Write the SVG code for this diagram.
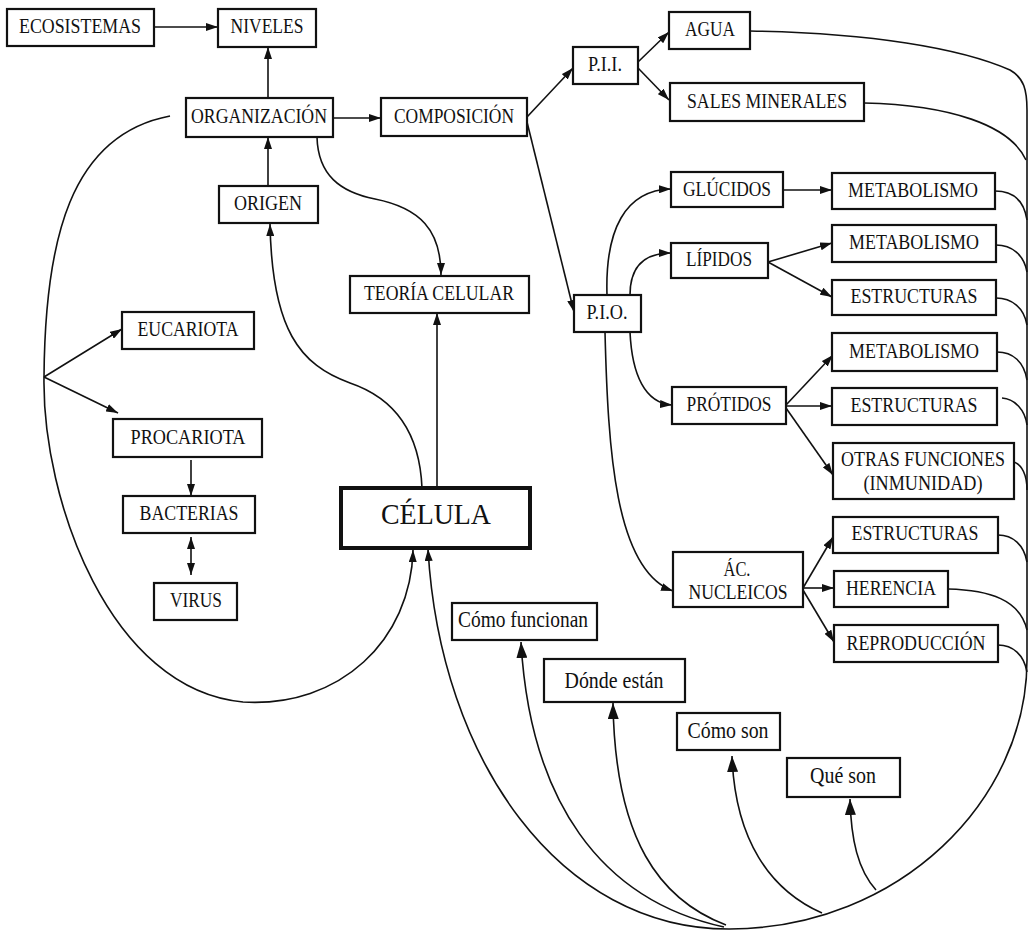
<svg xmlns="http://www.w3.org/2000/svg" width="1031" height="932" viewBox="0 0 1031 932">
<style>
.box{fill:#fff;stroke:#111;stroke-width:2.2}
.big{fill:#fff;stroke:#111;stroke-width:4}
text{font-family:"Liberation Serif","Times New Roman",serif;fill:#111;text-anchor:middle}
.t{font-size:20px}
.tl{font-size:23px}
.tb{font-size:30px}
.c{fill:none;stroke:#111;stroke-width:1.6}
.a{marker-end:url(#ah)}
.al{marker-end:url(#ahl)}
</style>
<defs>
<marker id="ah" markerUnits="userSpaceOnUse" viewBox="0 0 12 8" markerWidth="12" markerHeight="8" refX="12" refY="4" orient="auto-start-reverse"><path d="M0 0 L12 4 L0 8 z" fill="#111"/></marker>
<marker id="ahl" markerUnits="userSpaceOnUse" viewBox="0 0 16 11" markerWidth="16" markerHeight="11" refX="16" refY="5.5" orient="auto"><path d="M0 0 L16 5.5 L0 11 z" fill="#111"/></marker>
</defs>
<rect width="1031" height="932" fill="#fff"/>
<g id="connectors">
<path class="c a" d="M154 27 L218 27"/>
<path class="c a" d="M268 98 L268 47"/>
<path class="c a" d="M333 118 L381 118"/>
<path class="c a" d="M268 186 L268 137"/>
<path class="c a" d="M437 486 L437 313"/>
<path class="c a" d="M527 117 L573 68"/>
<path class="c a" d="M527 122 L574 312"/>
<path class="c a" d="M638 62 L669 32"/>
<path class="c a" d="M638 68 L669 100"/>
<path class="c a" d="M783 190 L832 190"/>
<path class="c a" d="M768 262 L832 243"/>
<path class="c a" d="M768 262 L832 297"/>
<path class="c a" d="M786 405 L833 355"/>
<path class="c a" d="M786 406 L832 406"/>
<path class="c a" d="M786 408 L833 475"/>
<path class="c a" d="M803 588 L833 537"/>
<path class="c a" d="M803 588 L834 588"/>
<path class="c a" d="M803 590 L834 642"/>
<path class="c a" d="M44 377 L122 329"/>
<path class="c a" d="M44 377 L118 413"/>
<path class="c a" d="M191 460 L191 496"/>
<path class="c a" d="M191 537 L191 575" marker-start="url(#ah)"/>
<path class="c a" d="M317 137 C318 175 340 192 375 199 C420 208 441 230 441 275"/>
<path class="c a" d="M422 488 C420 440 400 400 350 383 C300 365 272 330 270 224"/>
<path class="c a" d="M170 116 C70 135 45 240 44 377 C42 500 110 690 243 702 C340 708 411 640 413 550"/>
<path class="c a" d="M607 295 C605 230 625 190 671 189"/>
<path class="c a" d="M630 295 C630 265 645 253 671 253"/>
<path class="c a" d="M630 332 C632 375 645 403 672 405"/>
<path class="c a" d="M605 332 C608 450 615 570 673 591"/>
<path class="c a" d="M750 31 C870 33 960 48 1010 70 C1024 78 1027 90 1027 110 L1027 660 C1027 800 900 928 730 929 C560 930 440 760 428 549"/>
<path class="c" d="M864 103 C950 105 1010 125 1026 160"/>
<path class="c" d="M995 191 C1012 191 1024 200 1027 220"/>
<path class="c" d="M996 245 C1012 245 1024 255 1027 272"/>
<path class="c" d="M996 298 C1012 298 1024 308 1027 325"/>
<path class="c" d="M997 352 C1013 352 1024 362 1027 380"/>
<path class="c" d="M1002 398 C1015 399 1025 410 1027 425"/>
<path class="c" d="M1014 462 C1022 465 1027 475 1027 490"/>
<path class="c" d="M998 535 C1013 535 1024 545 1027 562"/>
<path class="c" d="M948 589 C990 590 1020 600 1027 630"/>
<path class="c" d="M998 645 C1013 645 1024 655 1027 672"/>
<path class="c al" d="M724 927 C600 900 530 800 521 642"/>
<path class="c al" d="M726 925 C660 900 615 840 613 703"/>
<path class="c al" d="M822 913 C770 890 735 840 732 756"/>
<path class="c al" d="M876 890 C858 870 851 840 850 799"/>
</g>
<g id="ecosistemas"><rect class="box" x="7" y="9" width="147" height="37"/><text class="t" x="80" y="33" textLength="122" lengthAdjust="spacingAndGlyphs">ECOSISTEMAS</text></g>
<g id="niveles"><rect class="box" x="218" y="9" width="98" height="38"/><text class="t" x="267" y="33" textLength="73" lengthAdjust="spacingAndGlyphs">NIVELES</text></g>
<g id="organizacion"><rect class="box" x="186" y="98" width="147" height="39"/><text class="t" x="259" y="123" textLength="136" lengthAdjust="spacingAndGlyphs">ORGANIZACIÓN</text></g>
<g id="composicion"><rect class="box" x="381" y="98" width="146" height="38"/><text class="t" x="454" y="123" textLength="120" lengthAdjust="spacingAndGlyphs">COMPOSICIÓN</text></g>
<g id="origen"><rect class="box" x="219" y="186" width="99" height="37"/><text class="t" x="268" y="210" textLength="68" lengthAdjust="spacingAndGlyphs">ORIGEN</text></g>
<g id="teoria"><rect class="box" x="350" y="276" width="179" height="37"/><text class="t" x="439" y="300" textLength="150" lengthAdjust="spacingAndGlyphs">TEORÍA CELULAR</text></g>
<g id="celula"><rect class="big" x="341" y="488" width="189" height="60"/><text class="tb" x="436" y="524" textLength="110" lengthAdjust="spacingAndGlyphs">CÉLULA</text></g>
<g id="pii"><rect class="box" x="573" y="47" width="65" height="37"/><text class="t" x="605" y="71" textLength="34" lengthAdjust="spacingAndGlyphs">P.I.I.</text></g>
<g id="agua"><rect class="box" x="669" y="12" width="81" height="37"/><text class="t" x="710" y="36" textLength="50" lengthAdjust="spacingAndGlyphs">AGUA</text></g>
<g id="sales"><rect class="box" x="670" y="83" width="194" height="38"/><text class="t" x="767" y="108" textLength="160" lengthAdjust="spacingAndGlyphs">SALES MINERALES</text></g>
<g id="glucidos"><rect class="box" x="671" y="172" width="112" height="35"/><text class="t" x="727" y="196" textLength="88" lengthAdjust="spacingAndGlyphs">GLÚCIDOS</text></g>
<g id="met1"><rect class="box" x="832" y="173" width="163" height="36"/><text class="t" x="913" y="197" textLength="130" lengthAdjust="spacingAndGlyphs">METABOLISMO</text></g>
<g id="lipidos"><rect class="box" x="671" y="243" width="97" height="35"/><text class="t" x="719" y="266" textLength="66" lengthAdjust="spacingAndGlyphs">LÍPIDOS</text></g>
<g id="met2"><rect class="box" x="832" y="225" width="164" height="37"/><text class="t" x="914" y="249" textLength="130" lengthAdjust="spacingAndGlyphs">METABOLISMO</text></g>
<g id="estr1"><rect class="box" x="832" y="280" width="164" height="35"/><text class="t" x="914" y="303" textLength="127" lengthAdjust="spacingAndGlyphs">ESTRUCTURAS</text></g>
<g id="pio"><rect class="box" x="574" y="295" width="67" height="37"/><text class="t" x="607" y="319" textLength="41" lengthAdjust="spacingAndGlyphs">P.I.O.</text></g>
<g id="met3"><rect class="box" x="832" y="333" width="165" height="38"/><text class="t" x="914" y="358" textLength="130" lengthAdjust="spacingAndGlyphs">METABOLISMO</text></g>
<g id="protidos"><rect class="box" x="672" y="387" width="114" height="37"/><text class="t" x="729" y="411" textLength="85" lengthAdjust="spacingAndGlyphs">PRÓTIDOS</text></g>
<g id="estr2"><rect class="box" x="832" y="388" width="165" height="37"/><text class="t" x="914" y="412" textLength="127" lengthAdjust="spacingAndGlyphs">ESTRUCTURAS</text></g>
<g id="otras"><rect class="box" x="833" y="443" width="181" height="56"/><text class="t" x="923" y="466" textLength="164" lengthAdjust="spacingAndGlyphs">OTRAS FUNCIONES</text><text class="t" x="923" y="490" textLength="119" lengthAdjust="spacingAndGlyphs">(INMUNIDAD)</text></g>
<g id="estr3"><rect class="box" x="833" y="517" width="165" height="36"/><text class="t" x="915" y="540" textLength="127" lengthAdjust="spacingAndGlyphs">ESTRUCTURAS</text></g>
<g id="acnucleicos"><rect class="box" x="673" y="552" width="130" height="55"/><text class="t" x="737" y="576" textLength="27" lengthAdjust="spacingAndGlyphs">ÁC.</text><text class="t" x="738" y="599" textLength="99" lengthAdjust="spacingAndGlyphs">NUCLEICOS</text></g>
<g id="herencia"><rect class="box" x="834" y="571" width="114" height="36"/><text class="t" x="891" y="595" textLength="90" lengthAdjust="spacingAndGlyphs">HERENCIA</text></g>
<g id="reproduccion"><rect class="box" x="834" y="625" width="164" height="37"/><text class="t" x="916" y="650" textLength="139" lengthAdjust="spacingAndGlyphs">REPRODUCCIÓN</text></g>
<g id="eucariota"><rect class="box" x="122" y="312" width="132" height="37"/><text class="t" x="188" y="336" textLength="101" lengthAdjust="spacingAndGlyphs">EUCARIOTA</text></g>
<g id="procariota"><rect class="box" x="113" y="419" width="149" height="38"/><text class="t" x="188" y="444" textLength="115" lengthAdjust="spacingAndGlyphs">PROCARIOTA</text></g>
<g id="bacterias"><rect class="box" x="123" y="496" width="132" height="37"/><text class="t" x="189" y="520" textLength="99" lengthAdjust="spacingAndGlyphs">BACTERIAS</text></g>
<g id="virus"><rect class="box" x="154" y="583" width="83" height="37"/><text class="t" x="196" y="607" textLength="52" lengthAdjust="spacingAndGlyphs">VIRUS</text></g>
<g id="como-funcionan"><rect class="box" x="452" y="603" width="145" height="37"/><text class="tl" x="523" y="627" textLength="130" lengthAdjust="spacingAndGlyphs">Cómo funcionan</text></g>
<g id="donde-estan"><rect class="box" x="544" y="659" width="141" height="43"/><text class="tl" x="614" y="688" textLength="99" lengthAdjust="spacingAndGlyphs">Dónde están</text></g>
<g id="como-son"><rect class="box" x="677" y="713" width="103" height="37"/><text class="tl" x="728" y="738" textLength="81" lengthAdjust="spacingAndGlyphs">Cómo son</text></g>
<g id="que-son"><rect class="box" x="787" y="758" width="113" height="39"/><text class="tl" x="843" y="783" textLength="66" lengthAdjust="spacingAndGlyphs">Qué son</text></g>
</svg>
